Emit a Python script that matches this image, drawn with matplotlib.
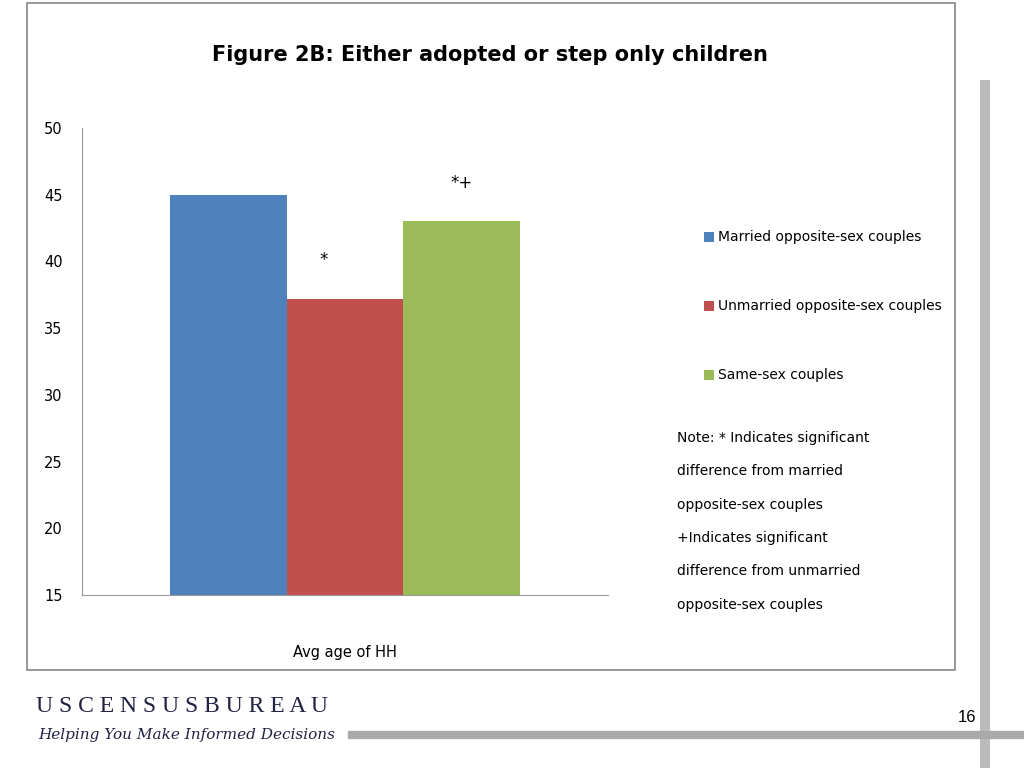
import matplotlib
matplotlib.use("Agg")
import matplotlib.pyplot as plt
from matplotlib.patches import Rectangle
from matplotlib.lines import Line2D

categories = ["Married opposite-sex couples", "Unmarried opposite-sex couples", "Same-sex couples"]
values = [45, 37.2, 43]
marks = ["", "*", "*+"]
colors = ["#4F81BD", "#C0504D", "#9BBB59"]
yticks = [15, 20, 25, 30, 35, 40, 45, 50]

FN = "DejaVu Sans"
fig = plt.figure(figsize=(10.24, 7.68), dpi=100)
fig.patches.append(Rectangle((27/1024, 1-670/768), 928/1024, 667/768, transform=fig.transFigure,
                             fill=False, edgecolor="#888888", lw=1.2))
fig.patches.append(Rectangle((980/1024, 0), 10/1024, 1-80/768, transform=fig.transFigure, color="#BBBBBB", lw=0))
fig.lines.append(Line2D([352/1024, 1], [1-735/768]*2, transform=fig.transFigure, color="#AAAAAA", lw=6))

ax = fig.add_axes([82/1024, 1-595/768, 526/1024, 467/768])
w = 0.2215
for i, (c, v, m, col) in enumerate(zip(categories, values, marks, colors)):
    x = 0.5 + (i-1)*w
    ax.bar(x, v-15, bottom=15, width=w, color=col, label=c)
    if m:
        ax.text(x - 0.04*(i == 1), v+2.2, m, ha="center", va="bottom", fontsize=12, family=FN)
ax.set_xlim(0, 1)
ax.set_ylim(15, 50)
ax.set_yticks(yticks)
ax.set_yticklabels([str(t) for t in yticks], family=FN, fontsize=10.5)
ax.set_xticks([0.5])
ax.set_xticklabels(["Avg age of HH"], family=FN, fontsize=10.5)
ax.tick_params(length=0, pad=14)
ax.tick_params(axis="x", pad=36)
for s in ["top", "right"]:
    ax.spines[s].set_visible(False)
for s in ["left", "bottom"]:
    ax.spines[s].set_color("#999999")

fig.text(490/1024, 1-55/768, "Figure 2B: Either adopted or step only children", ha="center", va="center",
         fontsize=15, fontweight="bold", family=FN)
for i, (c, col) in enumerate(zip(categories, colors)):
    y = 1-(237+69*i)/768
    fig.patches.append(Rectangle((704/1024, y-5/768), 10/1024, 10/768, transform=fig.transFigure, color=col, lw=0))
    fig.text(718/1024, y, c, va="center", fontsize=10, family=FN)
note = ["Note: * Indicates significant", "difference from married", "opposite-sex couples",
        "+Indicates significant", "difference from unmarried", "opposite-sex couples"]
for i, t in enumerate(note):
    fig.text(677/1024, 1-(438+33.3*i)/768, t, va="center", fontsize=10, family=FN)

fig.text(36/1024, 1-706/768, "U S C E N S U S B U R E A U", fontsize=17, family="Liberation Serif", va="center", color="#222244")
fig.text(38/1024, 1-735/768, "Helping You Make Informed Decisions", fontsize=11, family="DejaVu Serif",
         style="italic", va="center", color="#222244")
fig.text(967/1024, 1-718/768, "16", ha="center", va="center", fontsize=12, family="Liberation Sans")
fig.savefig("out.png", dpi=100)
